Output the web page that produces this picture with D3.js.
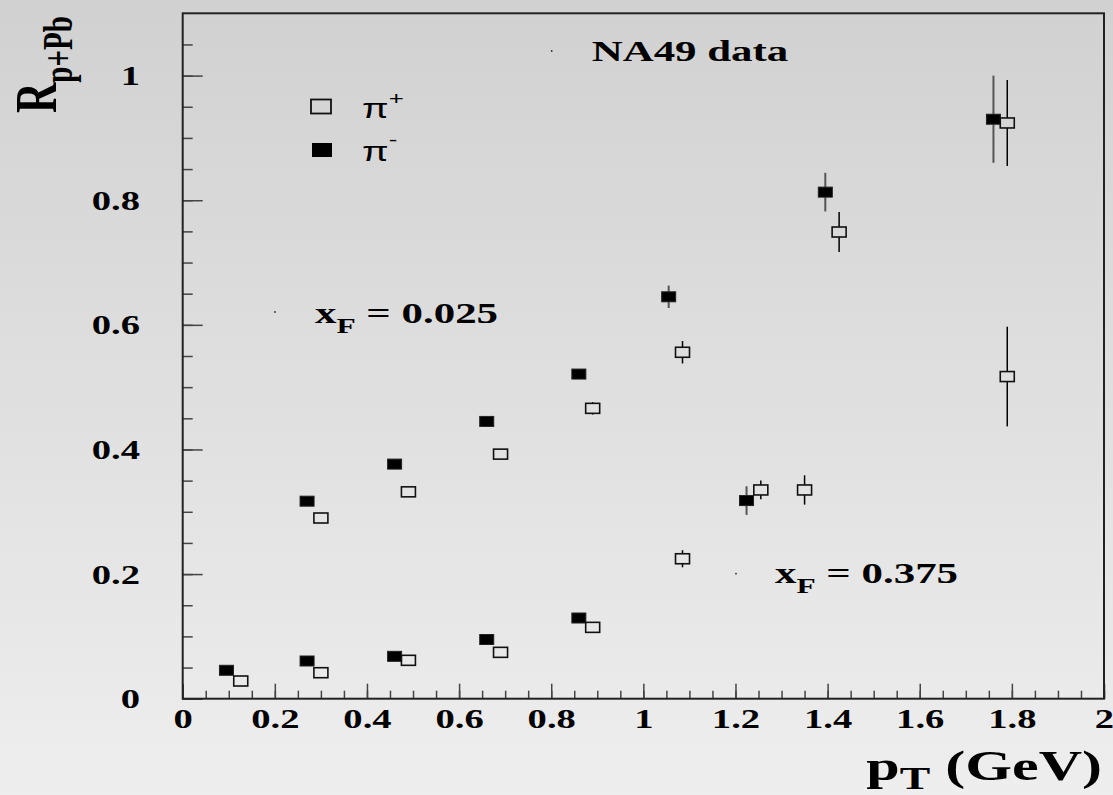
<!DOCTYPE html>
<html>
<head>
<meta charset="utf-8">
<script src="https://cdn.jsdelivr.net/npm/d3@7"></script>
<style>
  body { margin: 0; }
  svg { display: block; }
</style>
</head>
<body>
<svg id="chart" width="1113" height="795"></svg>
<script>
// x_F = 0.025, pi- (filled)
var hiNegX = [0.27, 0.46, 0.66, 0.86, 1.055, 1.395, 1.76];
var hiNegY = [0.317, 0.3765, 0.445, 0.521, 0.645, 0.813, 0.930];
var hiNegErr = [0.005, 0.005, 0.005, 0.008, 0.018, 0.031, 0.070];
// x_F = 0.025, pi+ (open)
var hiPosX = [0.30, 0.49, 0.69, 0.89, 1.085, 1.425, 1.79];
var hiPosY = [0.290, 0.332, 0.3925, 0.466, 0.556, 0.749, 0.924];
var hiPosErr = [0.005, 0.005, 0.006, 0.010, 0.018, 0.032, 0.069];
// x_F = 0.375, pi- (filled)
var loNegX = [0.095, 0.27, 0.46, 0.66, 0.86, 1.224];
var loNegY = [0.0456, 0.0605, 0.068, 0.095, 0.1295, 0.318];
var loNegErr = [0.004, 0.004, 0.004, 0.005, 0.006, 0.023];
// x_F = 0.375, pi+ (open)
var loPosX = [0.126, 0.30, 0.49, 0.69, 0.89, 1.085, 1.255, 1.35, 1.79];
var loPosY = [0.0284, 0.0417, 0.0616, 0.0744, 0.1145, 0.2246, 0.335, 0.335, 0.517];
var loPosErr = [0.004, 0.004, 0.004, 0.005, 0.006, 0.0137, 0.015, 0.0235, 0.080];

var xMajor = d3.range(0, 2.001, 0.2);
var xMinor = d3.range(0, 2.001, 0.05);
var yMajor = d3.range(0, 1.001, 0.2);
var yMinor = d3.range(0, 1.1, 0.05);

// the original canvas was stretched sideways, text too
var SX = 1.43;
var serif = "'Liberation Serif', 'Times New Roman', serif";
var sans = "'Liberation Sans', Arial, sans-serif";

var box = {left: 182.7, top: 13.3, right: 1104, bottom: 698.7};
var W = 1113, H = 795;

var svg = d3.select("#chart");

// background gradient
var grad = svg.append("defs").append("linearGradient")
  .attr("id", "bg").attr("x1", 0).attr("y1", 0).attr("x2", 0).attr("y2", 1);
grad.append("stop").attr("offset", "0%").attr("stop-color", "#d1d1d1");
grad.append("stop").attr("offset", "100%").attr("stop-color", "#eeeeee");
svg.append("rect").attr("width", W).attr("height", H).attr("fill", "url(#bg)");

var x = d3.scaleLinear().domain([0, 2]).range([box.left, box.right]);
var y = d3.scaleLinear().domain([0, 1.1]).range([box.bottom, box.top]);

var fmt = function(d) { return String(Math.round(d * 10) / 10); };

// x axis: minor then major ticks (pointing inward)
svg.append("g").attr("class", "x-minor")
  .attr("transform", "translate(0," + box.bottom + ")")
  .call(d3.axisBottom(x).tickValues(xMinor).tickSizeInner(-8).tickSizeOuter(0).tickFormat(""))
  .call(g => g.select(".domain").remove());
var xAx = svg.append("g").attr("class", "x-axis")
  .attr("transform", "translate(0," + box.bottom + ")")
  .call(d3.axisBottom(x).tickValues(xMajor).tickSizeInner(-15).tickSizeOuter(0).tickFormat(fmt))
  .call(g => g.select(".domain").remove());
xAx.selectAll("text")
  .attr("y", null).attr("dy", null)
  .attr("transform", "translate(0,29.5) scale(" + SX + ",1)")
  .attr("font-family", serif).attr("font-weight", "bold").attr("font-size", 27)
  .attr("fill", "#000");

// y axis
svg.append("g").attr("class", "y-minor")
  .attr("transform", "translate(" + box.left + ",0)")
  .call(d3.axisLeft(y).tickValues(yMinor).tickSizeInner(-10).tickSizeOuter(0).tickFormat(""))
  .call(g => g.select(".domain").remove());
var yAx = svg.append("g").attr("class", "y-axis")
  .attr("transform", "translate(" + box.left + ",0)")
  .call(d3.axisLeft(y).tickValues(yMajor).tickSizeInner(-20).tickSizeOuter(0).tickFormat(fmt))
  .call(g => g.select(".domain").remove());
yAx.selectAll("text")
  .attr("x", null).attr("dy", null)
  .attr("text-anchor", "end")
  .attr("transform", "translate(-42.7,9) scale(" + SX + ",1)")
  .attr("font-family", serif).attr("font-weight", "bold").attr("font-size", 27)
  .attr("fill", "#000");

svg.selectAll(".x-minor line, .x-axis line, .y-minor line, .y-axis line")
  .attr("stroke", "#444").attr("stroke-width", 1.5);

// frame
svg.append("rect")
  .attr("x", box.left).attr("y", box.top)
  .attr("width", box.right - box.left).attr("height", box.bottom - box.top)
  .attr("fill", "none").attr("stroke", "#222").attr("stroke-width", 2);

// data points
var MW = 14, MH = 10;
function series(xs, ys, es, filled, cls) {
  var data = xs.map((d, i) => ({x: d, y: ys[i], e: es[i]}));
  var g = svg.append("g").attr("class", cls);
  var errCol = filled ? "#555" : "#000";
  var errW = filled ? 2 : 1.5;
  g.selectAll(".err-up").data(data).join("line").attr("class", "err-up")
    .attr("x1", d => x(d.x)).attr("x2", d => x(d.x))
    .attr("y1", d => y(d.y + d.e)).attr("y2", d => Math.max(y(d.y + d.e), y(d.y) - MH / 2))
    .attr("stroke", errCol).attr("stroke-width", errW);
  g.selectAll(".err-dn").data(data).join("line").attr("class", "err-dn")
    .attr("x1", d => x(d.x)).attr("x2", d => x(d.x))
    .attr("y1", d => Math.min(y(d.y - d.e), y(d.y) + MH / 2)).attr("y2", d => y(d.y - d.e))
    .attr("stroke", errCol).attr("stroke-width", errW);
  g.selectAll("rect").data(data).join("rect")
    .attr("x", d => x(d.x) - MW / 2).attr("y", d => y(d.y) - MH / 2)
    .attr("width", MW).attr("height", MH)
    .attr("fill", filled ? "#000" : "none")
    .attr("stroke", filled ? "#222" : "#111").attr("stroke-width", filled ? 1 : 1.6);
}
series(hiNegX, hiNegY, hiNegErr, true, "hi-neg");
series(hiPosX, hiPosY, hiPosErr, false, "hi-pos");
series(loNegX, loNegY, loNegErr, true, "lo-neg");
series(loPosX, loPosY, loPosErr, false, "lo-pos");

// legend
svg.append("rect").attr("x", 311).attr("y", 99.5).attr("width", 20).attr("height", 14)
  .attr("fill", "none").attr("stroke", "#111").attr("stroke-width", 1.8);
svg.append("rect").attr("x", 312).attr("y", 143).attr("width", 20).attr("height", 14)
  .attr("fill", "#000");
var leg1 = svg.append("text").attr("transform", "translate(362,118) scale(" + SX + ",1)")
  .attr("font-family", sans).attr("font-size", 27);
leg1.append("tspan").text("π");
leg1.append("tspan").attr("font-size", 18).attr("dy", -13).text("+");
var leg2 = svg.append("text").attr("transform", "translate(362,161) scale(" + SX + ",1)")
  .attr("font-family", sans).attr("font-size", 27);
leg2.append("tspan").text("π");
leg2.append("tspan").attr("font-size", 18).attr("dy", -15).text("-");

// annotations
function serifText(tx, ty, size) {
  return svg.append("text")
    .attr("transform", "translate(" + tx + "," + ty + ") scale(" + SX + ",1)")
    .attr("font-family", serif).attr("font-weight", "bold").attr("font-size", size)
    .attr("fill", "#000");
}
serifText(591.7, 61, 30).text("NA49 data");

var t1 = serifText(315, 323, 30);
t1.append("tspan").text("x");
t1.append("tspan").attr("font-size", 22).attr("dy", 10).text("F");
t1.append("tspan").attr("dy", -10).text(" = 0.025");

var t2 = serifText(775, 583, 30);
t2.append("tspan").text("x");
t2.append("tspan").attr("font-size", 22).attr("dy", 10).text("F");
t2.append("tspan").attr("dy", -10).text(" = 0.375");

// stray dots left over in the original
[[551.7, 51], [275, 312], [736, 573.7]].forEach(function(p) {
  svg.append("circle").attr("cx", p[0]).attr("cy", p[1]).attr("r", 0.9).attr("fill", "#333");
});

// axis titles
var xt = serifText(1102, 780, 42).attr("text-anchor", "end");
xt.append("tspan").text("p");
xt.append("tspan").attr("font-size", 32).attr("dy", 9).text("T");
xt.append("tspan").attr("dy", -9).text(" (GeV)");

var yt = svg.append("text")
  .attr("transform", "translate(56,113) scale(" + SX + ",1) rotate(-90)")
  .attr("font-family", serif).attr("font-weight", "bold").attr("font-size", 42)
  .attr("fill", "#000");
yt.append("tspan").text("R");
yt.append("tspan").attr("font-size", 29).attr("dy", 11).text("p+Pb");
</script>
</body>
</html>
